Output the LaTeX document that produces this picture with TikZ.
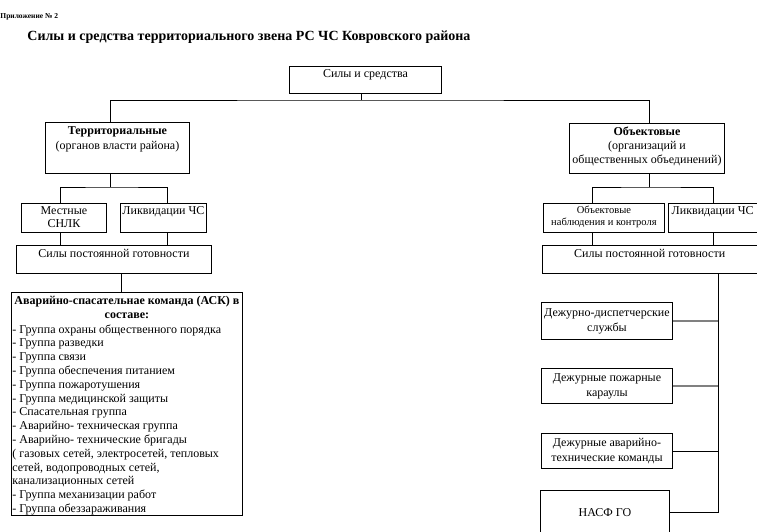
\documentclass[tikz,border=0pt]{standalone}
\usepackage{fontspec}
\setmainfont{Liberation Serif}
\usetikzlibrary{positioning}

\begin{document}
\begin{tikzpicture}[x=1pt,y=-1pt,line width=0.9pt,
  box/.style={draw,anchor=north west,inner sep=0pt},
  txt/.style={font=\fontsize{12}{14}\selectfont,inner sep=0pt,align=center},
  small/.style={font=\fontsize{10.5}{12}\selectfont,inner sep=0pt,align=center},
  list/.style={font=\fontsize{12}{13.8}\selectfont,inner sep=0pt,align=left}]
\useasboundingbox (0,0) rectangle (757,532);

% headings
\node[anchor=west,inner sep=0pt,font=\fontsize{7.5}{9}\selectfont\bfseries] (app) at (0,17) {Приложение № 2};
\node[anchor=west,inner sep=0pt,font=\fontsize{14}{16}\selectfont\bfseries] (title) at (27,37) {Силы и средства территориального звена РС ЧС Ковровского района};

% top level
\node[box,minimum width=152,minimum height=27] (top) at (289,66) {};
\node[txt,below=3pt of top.north] (ttop) {Силы и средства};

\node[box,minimum width=144,minimum height=51] (terr) at (45,122) {};
\node[txt,below=4pt of terr.north,font=\fontsize{12}{15}\selectfont] (tterr) {\textbf{Территориальные}\\(органов власти района)};

\node[box,minimum width=155,minimum height=50] (obj) at (569,123) {};
\node[txt,below=3pt of obj.north] (tobj) {\textbf{Объектовые}\\(организаций и\\общественных объединений)};

% left branch
\node[box,minimum width=85,minimum height=29] (mest) at (21,203) {};
\node[txt,below=3pt of mest.north,font=\fontsize{12}{13}\selectfont] (tmest) {Местные\\СНЛК};
\node[box,minimum width=86,minimum height=29] (likv1) at (120,203) {};
\node[txt,below=3pt of likv1.north] (tlikv1) {Ликвидации ЧС};
\node[box,minimum width=195,minimum height=28] (spg1) at (16,245) {};
\node[txt,below=4pt of spg1.north] (tspg1) {Силы постоянной готовности};

\node[box,minimum width=231,minimum height=223] (ask) at (11,292) {};
\node[txt,below=4pt of ask.north] (task) {\textbf{Аварийно-спасательнае команда (АСК) в}\\\textbf{составе:}};
\node[list,below right=32pt and 1pt of ask.north west] (asklist) {- Группа охраны  общественного порядка\\
- Группа разведки\\
- Группа связи\\
- Группа обеспечения питанием\\
- Группа пожаротушения\\
- Группа медицинской защиты\\
- Спасательная группа\\
- Аварийно- техническая группа\\
- Аварийно- технические бригады\\
( газовых сетей, электросетей, тепловых\\
сетей, водопроводных сетей,\\
канализационных сетей\\
- Группа механизации работ\\
- Группа обеззараживания};

% right branch
\node[box,minimum width=121,minimum height=29] (nab) at (543,203) {};
\node[small,below=3pt of nab.north] (tnab) {Объектовые\\наблюдения и контроля};
\node[box,minimum width=88.5,minimum height=29] (likv2) at (668,203) {};
\node[txt,below=3pt of likv2.north] (tlikv2) {Ликвидации ЧС};
\node[box,minimum width=214.5,minimum height=28] (spg2) at (542,245) {};
\node[txt,below=4pt of spg2.north] (tspg2) {Силы постоянной готовности};

\node[box,txt,font=\fontsize{12}{15}\selectfont,minimum width=131,minimum height=37] (dds) at (541,302) {Дежурно-диспетчерские\\службы};
\node[box,txt,font=\fontsize{12}{15}\selectfont,minimum width=131,minimum height=35] (dpk) at (541,368) {Дежурные пожарные\\караулы};
\node[box,txt,font=\fontsize{12}{15}\selectfont,minimum width=131,minimum height=35] (dat) at (541,433) {Дежурные аварийно-\\технические команды};
\node[box,txt,minimum width=129,minimum height=44] (nasf) at (540,490) {НАСФ ГО};

% lanes of the connectors
\coordinate (hub) at (361,100);
\coordinate (lfork) at (110,187);
\coordinate (rfork) at (649,187);
\coordinate (xa) at (60,0);
\coordinate (xb) at (167,0);
\coordinate (xc) at (121,0);
\coordinate (xd) at (110,0);
\coordinate (xe) at (649,0);
\coordinate (xf) at (592,0);
\coordinate (xg) at (713,0);
\coordinate (xh) at (718,0);

\draw (top.south -| hub) -- (hub);
\draw (terr.north -| xd) |- (hub) -| (obj.north -| xe);

\draw (terr.south -| xd) -- (lfork);
\draw (mest.north -| xa) |- (lfork) -| (likv1.north -| xb);
\draw (mest.south -| xa) -- (spg1.north -| xa);
\draw (likv1.south -| xb) -- (spg1.north -| xb);
\draw (spg1.south -| xc) -- (ask.north -| xc);

\draw (obj.south -| xe) -- (rfork);
\draw (nab.north -| xf) |- (rfork) -| (likv2.north -| xg);
\draw (nab.south -| xf) -- (spg2.north -| xf);
\draw (likv2.south -| xg) -- (spg2.north -| xg);
\draw (spg2.south -| xh) -- (nasf.east -| xh) -- (nasf.east);
\draw[gray,line width=1.2pt] (dds.east) -- (dds.east -| xh);
\draw[gray,line width=1.2pt] (dpk.east) -- (dpk.east -| xh);
\draw (dat.east) -- (dat.east -| xh);

\end{tikzpicture}
\end{document}
